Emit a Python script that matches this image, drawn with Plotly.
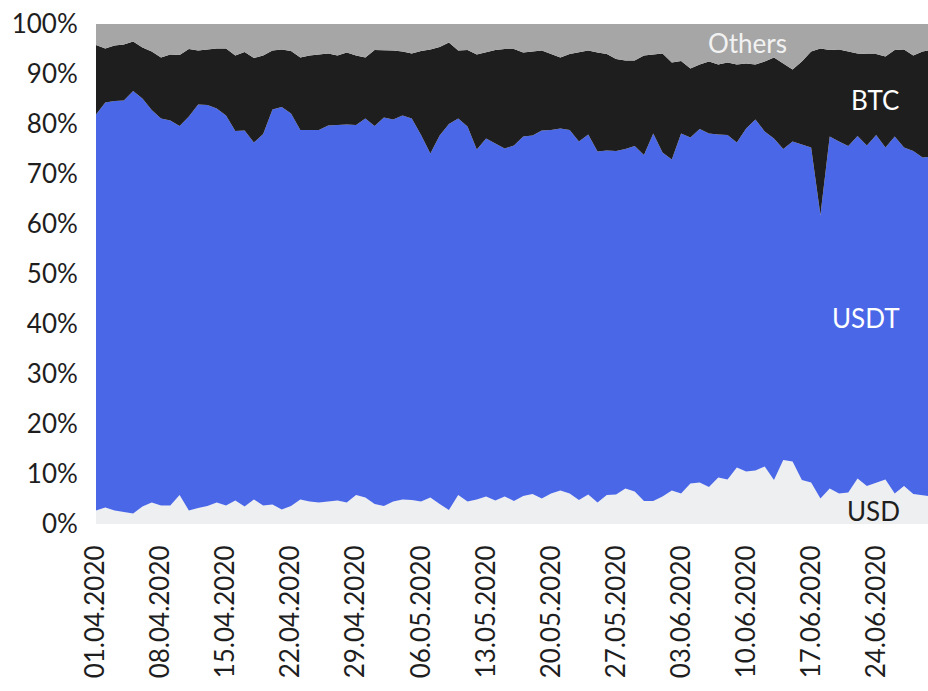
import pandas as pd
import plotly.graph_objects as go

# Daily dates 01.04.2020 - 30.06.2020
dates = pd.date_range("2020-04-01", "2020-06-30", freq="D")

usd = [2.7, 3.3, 2.7, 2.4, 2.1, 3.5, 4.3, 3.7, 3.7, 5.8, 2.7, 3.2, 3.6, 4.3, 3.7, 4.7, 3.5, 4.9, 3.7, 3.9,
       2.9, 3.6, 4.9, 4.5, 4.3, 4.5, 4.7, 4.3, 5.8, 5.3, 4.0, 3.6, 4.5, 4.9, 4.8, 4.5, 5.3, 4.0, 2.8, 5.8,
       4.5, 4.9, 5.5, 4.7, 5.5, 4.6, 5.6, 6.0, 5.1, 6.1, 6.7, 6.1, 4.8, 5.9, 4.3, 5.8, 5.9, 7.1, 6.5, 4.6,
       4.6, 5.5, 6.7, 6.1, 8.1, 8.3, 7.4, 9.3, 8.9, 11.3, 10.5, 10.7, 11.5, 8.8, 12.8, 12.5, 8.8, 8.3, 5.1, 7.1,
       6.1, 6.3, 9.1, 7.6, 8.3, 8.9, 6.1, 7.6, 6.0, 5.8, 5.5]

usdt = [79.2, 81.0, 81.9, 82.3, 84.5, 81.6, 78.5, 77.4, 77.0, 73.8, 78.8, 80.7, 80.2, 78.8, 78.0, 73.9, 75.2, 71.4, 74.3, 79.0,
        80.5, 78.5, 73.9, 74.3, 74.5, 75.2, 75.1, 75.6, 74.0, 75.8, 75.6, 77.7, 76.4, 76.8, 76.3, 73.3, 68.8, 73.7, 77.2, 75.3,
        75.0, 70.0, 71.6, 71.4, 69.6, 71.1, 71.9, 71.7, 73.6, 72.7, 72.4, 72.7, 71.7, 72.0, 70.2, 68.9, 68.7, 67.9, 69.1, 69.2,
        73.5, 68.8, 66.2, 72.0, 69.2, 70.7, 70.7, 68.6, 68.9, 65.0, 68.6, 70.2, 67.0, 68.3, 62.2, 64.0, 67.1, 67.0, 56.7, 70.4,
        70.4, 69.3, 68.5, 68.1, 69.5, 66.4, 71.4, 67.7, 68.6, 67.5, 68.0]

btc = [13.9, 10.8, 11.1, 11.2, 9.9, 10.2, 11.7, 12.2, 13.2, 14.2, 13.5, 10.8, 11.1, 12.0, 13.4, 15.1, 15.7, 16.9, 15.7, 11.8,
       11.5, 12.5, 14.5, 14.9, 15.1, 14.4, 13.9, 14.4, 13.9, 12.2, 15.2, 13.5, 13.8, 12.8, 13.0, 16.8, 20.8, 17.7, 16.3, 13.6,
       15.3, 19.0, 17.2, 18.7, 19.9, 19.3, 16.8, 16.8, 16.0, 15.2, 14.2, 15.2, 17.8, 16.8, 19.8, 19.3, 18.4, 17.7, 17.1, 19.9,
       15.8, 19.8, 19.4, 14.5, 13.8, 12.9, 14.4, 14.0, 14.5, 15.6, 13.0, 11.0, 14.0, 16.2, 17.1, 14.4, 16.6, 19.2, 33.3, 17.3,
       18.4, 18.9, 16.5, 18.3, 16.2, 18.2, 17.3, 19.6, 19.1, 21.2, 21.3]

others = [4.2, 4.9, 4.3, 4.1, 3.5, 4.7, 5.5, 6.7, 6.1, 6.2, 5.0, 5.3, 5.1, 4.9, 4.9, 6.3, 5.6, 6.8, 6.3, 5.3,
          5.1, 5.4, 6.7, 6.3, 6.1, 5.9, 6.3, 5.7, 6.3, 6.7, 5.2, 5.2, 5.3, 5.5, 5.9, 5.4, 5.1, 4.6, 3.7, 5.3,
          5.2, 6.1, 5.7, 5.2, 5.0, 5.0, 5.7, 5.5, 5.3, 6.0, 6.7, 6.0, 5.7, 5.3, 5.7, 6.0, 7.0, 7.3, 7.3, 6.3,
          6.1, 5.9, 7.7, 7.4, 8.9, 8.1, 7.5, 8.1, 7.7, 8.1, 7.9, 8.1, 7.5, 6.7, 7.9, 9.1, 7.5, 5.5, 4.9, 5.2,
          5.1, 5.5, 5.9, 6.0, 6.0, 6.5, 5.2, 5.1, 6.3, 5.5, 5.2]

series_names = ["USD", "USDT", "BTC", "Others"]
series_values = [usd, usdt, btc, others]
series_colors = ["#eeeff1", "#4a67e8", "#1e1e1e", "#a6a6a6"]

FONT = "Lato"
TXT = "#1e1e1e"

fig = go.Figure()
for name, vals, col in zip(series_names, series_values, series_colors):
    fig.add_trace(go.Scatter(
        x=dates, y=vals, name=name, mode="lines", stackgroup="one",
        line=dict(width=0, color=col), fillcolor=col, hoverinfo="skip",
    ))

labels = [
    ("Others", 0.7826, 0.962, "#f2f2f2"),
    ("BTC", 0.9363, 0.8485, "#ffffff"),
    ("USDT", 0.9255, 0.412, "#ffffff"),
    ("USD", 0.9345, 0.026, TXT),
]
for text, ax, ay, col in labels:
    fig.add_annotation(text=text, x=ax, y=ay, xref="paper", yref="paper",
                       showarrow=False, xanchor="center", yanchor="middle",
                       font=dict(family=FONT, size=26, color=col))

fig.update_layout(
    width=928, height=691, autosize=False,
    margin=dict(l=96, r=0, t=24, b=167, pad=0),
    paper_bgcolor="white", plot_bgcolor="white",
    showlegend=False,
    font=dict(family=FONT, size=26, color=TXT),
)
fig.update_xaxes(
    type="date",
    range=["2020-04-01", "2020-06-29 14:00"],
    tick0="2020-04-01", dtick=7 * 24 * 3600 * 1000,
    tickformat="%d.%m.%Y", tickangle=-90,
    ticks="outside", ticklen=10, tickcolor="rgba(0,0,0,0)",
    showgrid=False, zeroline=False, showline=False,
    tickfont=dict(family=FONT, size=26, color=TXT),
)
fig.update_yaxes(
    range=[0, 100], dtick=10, ticksuffix="%",
    ticks="outside", ticklen=12, tickcolor="rgba(0,0,0,0)",
    showgrid=False, zeroline=False, showline=False,
    tickfont=dict(family=FONT, size=26, color=TXT),
)

fig.write_html(
    "out.html",
    config={"displayModeBar": False},
    post_script="document.body.style.margin='0';document.body.style.overflow='hidden';",
)
